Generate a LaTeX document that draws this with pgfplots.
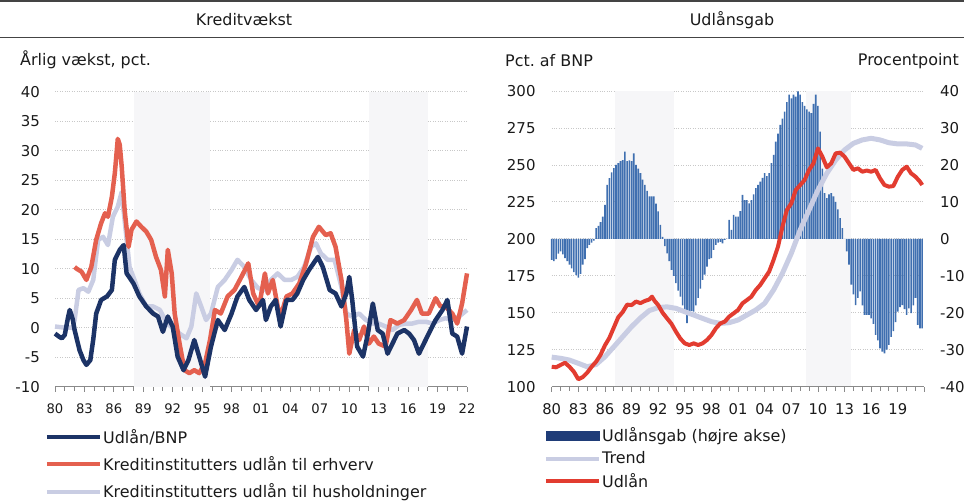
\documentclass[border=0pt]{standalone}
\usepackage{fontspec}
\setmainfont{DejaVu Sans}
\usepackage{pgfplots}
\pgfplotsset{compat=1.18}
\definecolor{navy}{HTML}{1C3366}
\definecolor{redl}{HTML}{E4604F}
\definecolor{redr}{HTML}{E23C30}
\definecolor{lightl}{HTML}{C9CDE3}
\definecolor{barblue}{HTML}{3F6FB0}
\definecolor{barleg}{HTML}{1F3C78}
\definecolor{band}{HTML}{F6F6F8}
\definecolor{gridc}{HTML}{C8C8C8}
\definecolor{axc}{HTML}{8A8A8A}
\definecolor{txt}{HTML}{1A1A1A}
\definecolor{rule}{HTML}{444444}
\newcommand{\fs}[1]{\fontsize{#1}{#1}\selectfont}
\pgfplotsset{
  base/.style={
    scale only axis, enlargelimits=false, clip=false,
    xmin=1980, xmax=2022,
    axis x line*=bottom, axis y line*=left,
    y axis line style={draw=none},
    x axis line style={draw=axc, line width=0.8bp},
    xtick style={draw=axc, line width=0.8bp},
    ytick style={draw=none},
    tick align=outside, major tick length=5bp, minor tick length=4bp,
    xtick={1980,1983,...,2022},
    minor xtick={1980,...,2022},
    /pgf/number format/assume math mode=true,
    major grid style={dotted, draw=gridc, line width=0.8bp},
    legend cell align=left,
    legend style={draw=none, fill=none, inner sep=0pt, outer sep=0pt,
      font=\fs{16}, text=txt, column sep=0bp,
      nodes={inner sep=1.2bp}},
  }
}
\begin{document}
\begin{tikzpicture}[x=1bp,y=1bp]
\path[use as bounding box] (0,0) rectangle (964,504);
\draw[line width=2bp, rule] (0,502.8) -- (964,502.8);
\draw[line width=1bp, rule] (0,466.8) -- (964,466.8);
\node[font=\fs{16}, text=txt] at (244,484) {Kreditvækst};
\node[font=\fs{16}, text=txt] at (732,484) {Udlånsgab};
\node[font=\fs{16}, text=txt, anchor=west, inner sep=0pt] at (20,444) {Årlig vækst, pct.};
\node[font=\fs{16}, text=txt, anchor=west, inner sep=0pt] at (505,443) {Pct.\ af BNP};
\node[font=\fs{16}, text=txt, anchor=east, inner sep=0pt] at (959,443) {Procentpoint};

% ---------------- Left panel ----------------
\begin{axis}[base,
  at={(55bp,117.3bp)}, anchor=south west, width=412bp, height=295bp,
  ymin=-10, ymax=40, ytick={-10,-5,...,40}, ymajorgrids,
  yticklabel style={inner sep=0pt, xshift=-10bp, font=\fs{15}, text=txt},
  xticklabel style={inner sep=0pt, yshift=-12bp, font=\fs{13.2}, text=txt},
  xticklabels={80,83,86,89,92,95,98,01,04,07,10,13,16,19,22},
  legend style={at={(-0.0243,-0.14)}, anchor=north west, row sep=9.5bp},
  legend image code/.code={\draw[#1, line width=4bp] (0bp,0bp) -- (53bp,0bp);},
  reverse legend]
\addplot[fill=band, draw=none, forget plot] coordinates {(1988.1,-10)(1988.1,40)(1995.8,40)(1995.8,-10)} -- cycle;
\addplot[fill=band, draw=none, forget plot] coordinates {(2012.0,-10)(2012.0,40)(2018.0,40)(2018.0,-10)} -- cycle;
\addplot[lightl, line width=4.5bp, line join=round] coordinates {
(1980,0.2)(1981,0)(1981.8,0)(1982,1.3)(1982.4,6.4)(1982.9,6.7)(1983.4,6.1)(1983.9,8.1)(1984.4,14.9)(1984.9,15.4)(1985.4,14)(1985.9,18.8)(1986.4,20.5)(1986.8,23)(1987.1,18.2)(1987.6,10.3)(1988.1,8.1)(1988.6,5.8)(1989.3,3.6)(1990,3.6)(1990.7,3)(1991.4,0.7)(1992,0)(1992.7,-1)(1993.4,-1.8)(1993.9,0.2)(1994.4,5.8)(1994.9,3.6)(1995.4,1.3)(1995.9,2.4)(1996.6,6.9)(1997.3,8.1)(1998,9.8)(1998.6,11.5)(1999.3,10.3)(2000,8.1)(2000.7,6.7)(2001.4,6.4)(2002,8.1)(2002.7,9.2)(2003.4,8.1)(2004.1,8.1)(2004.7,8.6)(2005.4,10.3)(2006.1,13.7)(2006.6,14.3)(2007.1,12.6)(2007.8,11.5)(2008.5,11.5)(2009.2,6.9)(2009.7,2.4)(2010.3,1.9)(2011,2.4)(2011.7,1.3)(2012.4,0.7)(2013,0.7)(2013.7,0.2)(2014.4,-0.4)(2015.1,0.5)(2015.8,0.7)(2016.4,0.7)(2017.1,1)(2017.8,1)(2018.5,0.7)(2019.2,1.3)(2019.8,1.6)(2020.5,1.3)(2021.2,1.9)(2022,3)};
\addlegendentry{Kreditinstitutters udlån til husholdninger}
\addplot[redl, line width=4.5bp, line join=round] coordinates {
(1982,10.3)(1982.2,10)(1982.7,9.5)(1983.2,8.1)(1983.7,10.3)(1984.2,14.9)(1984.7,17.7)(1985.1,19.4)(1985.4,18.8)(1985.8,22.2)(1986.1,26.2)(1986.4,32)(1986.6,31)(1986.8,27.3)(1987.1,19.9)(1987.5,13.7)(1987.8,16.6)(1988.3,18)(1988.8,17.1)(1989.3,16.3)(1989.8,14.9)(1990.3,12)(1990.8,9.8)(1991.2,5.3)(1991.5,13.2)(1991.9,9.2)(1992.2,2.4)(1992.7,-2.7)(1993.2,-7.2)(1993.7,-7.7)(1994.2,-7.2)(1994.7,-7.7)(1995.3,-6)(1995.8,-2.1)(1996.3,3)(1996.9,2.4)(1997.6,5.3)(1998.3,6.4)(1999,8.6)(1999.7,10.9)(2000.2,5.8)(2000.8,3.6)(2001.4,9.2)(2001.7,5.8)(2002.2,8.1)(2002.7,3.6)(2003,1.9)(2003.6,5.3)(2004.2,5.8)(2004.9,7.5)(2005.6,10.9)(2006.3,15.4)(2006.9,17.1)(2007.6,15.7)(2008.1,16)(2008.6,13.7)(2009.2,8.1)(2009.7,1.3)(2010,-4.4)(2010.5,-0.4)(2011,-2.1)(2011.5,0.2)(2012,-2.7)(2012.5,-1.5)(2013,-2.7)(2013.7,-3.2)(2014.2,1.3)(2014.9,0.7)(2015.6,1.3)(2016.3,3)(2016.9,4.7)(2017.4,2.4)(2018.1,2.4)(2018.8,5)(2019.3,3.6)(2019.8,3.6)(2020.5,2.4)(2021,0.7)(2021.5,4.1)(2022,9.2)};
\addlegendentry{Kreditinstitutters udlån til erhverv}
\addplot[navy, line width=4.5bp, line join=round] coordinates {
(1980,-1)(1980.4,-1.5)(1980.7,-1.8)(1981,-1.2)(1981.3,1.5)(1981.5,3)(1981.8,1.5)(1982,-0.4)(1982.5,-3.8)(1982.9,-5.5)(1983.2,-6.3)(1983.6,-5.5)(1983.9,-2)(1984.2,2.4)(1984.7,4.7)(1985.3,5.3)(1985.8,6.4)(1986.1,11.5)(1986.6,13.2)(1987,14)(1987.3,9.2)(1987.6,8.5)(1988,7.5)(1988.6,5.3)(1989.3,3.6)(1990,2.4)(1990.5,1.9)(1991,-0.7)(1991.5,1.9)(1992,0.2)(1992.5,-4.9)(1993.1,-7.2)(1993.6,-5.5)(1994.2,-2.1)(1994.7,-4.9)(1995.3,-8.3)(1995.9,-3.2)(1996.6,1.3)(1997.3,-0.4)(1998,2.4)(1998.6,5.3)(1999.3,6.9)(1999.8,4.7)(2000.5,3)(2001.2,4.7)(2001.5,1.3)(2002,3.6)(2002.5,4.7)(2003,0.2)(2003.6,4.7)(2004.2,4.7)(2004.7,5.8)(2005.3,8.1)(2005.9,9.8)(2006.8,12)(2007.3,10.3)(2008,6.4)(2008.6,5.8)(2009.2,3.6)(2009.7,5.8)(2010,8.6)(2010.3,4.7)(2010.8,-3.2)(2011.4,-4.9)(2011.9,-1)(2012.4,4.1)(2012.9,-0.4)(2013.4,-1)(2013.9,-4.4)(2014.4,-2.7)(2014.9,-1)(2015.6,-0.4)(2016.1,-1)(2016.6,-2.1)(2017.1,-4.4)(2017.6,-2.7)(2018.1,-1)(2018.8,1.3)(2019.5,3)(2020,4.7)(2020.5,-1)(2021,-1.5)(2021.5,-4.4)(2022,0.2)};
\addlegendentry{Udlån/BNP}
\end{axis}

% ---------------- Right panel: gap bars (right axis) ----------------
\begin{axis}[base,
  at={(551.7bp,117.3bp)}, anchor=south west, width=372.7bp, height=295.7bp,
  ymin=-40, ymax=40, ytick={-40,-30,...,40}, ymajorgrids,
  axis x line=none, axis y line*=right,
  yticklabel style={inner sep=0pt, xshift=10.5bp, font=\fs{15}, text=txt}]
\addplot[fill=band, draw=none] coordinates {(1987.1,-40)(1987.1,40)(1993.8,40)(1993.8,-40)} -- cycle;
\addplot[fill=band, draw=none] coordinates {(2008.7,-40)(2008.7,40)(2013.7,40)(2013.7,-40)} -- cycle;
\addplot[ybar, bar width=1.6bp, bar shift=0pt, fill=barblue, draw=none] coordinates {
(1980.00,-5.7)(1980.25,-6.0)(1980.50,-5.5)(1980.75,-4.0)
(1981.00,-3.4)(1981.25,-4.2)(1981.50,-5.2)(1981.75,-6.0)
(1982.00,-7.0)(1982.25,-8.0)(1982.50,-9.0)(1982.75,-9.8)
(1983.00,-10.5)(1983.25,-9.5)(1983.50,-7.0)(1983.75,-5.5)
(1984.00,-2.5)(1984.25,-1.6)(1984.50,-1.0)(1984.75,-0.5)
(1985.00,2.9)(1985.25,3.5)(1985.50,4.5)(1985.75,6.0)
(1986.00,9.2)(1986.25,14.6)(1986.50,16.4)(1986.75,18.0)
(1987.00,19.1)(1987.25,20.0)(1987.50,20.5)(1987.75,21.0)
(1988.00,21.3)(1988.25,23.6)(1988.50,21.0)(1988.75,21.2)
(1989.00,21.0)(1989.25,23.1)(1989.50,20.0)(1989.75,19.0)
(1990.00,17.8)(1990.25,16.0)(1990.50,14.6)(1990.75,13.0)
(1991.00,11.5)(1991.25,11.5)(1991.50,11.5)(1991.75,9.5)
(1992.00,7.4)(1992.25,3.8)(1992.50,0.5)(1992.75,-2.0)
(1993.00,-3.9)(1993.25,-6.0)(1993.50,-8.4)(1993.75,-10.0)
(1994.00,-12.0)(1994.25,-14.0)(1994.50,-15.6)(1994.75,-18.0)
(1995.00,-20.2)(1995.25,-22.8)(1995.50,-20.5)(1995.75,-19.5)
(1996.00,-19.7)(1996.25,-18.0)(1996.50,-16.0)(1996.75,-13.5)
(1997.00,-11.1)(1997.25,-9.7)(1997.50,-7.5)(1997.75,-5.5)
(1998.00,-5.2)(1998.25,-3.0)(1998.50,-1.6)(1998.75,-1.0)
(1999.00,-0.8)(1999.25,-1.2)(1999.50,-0.3)(1999.75,0.0)
(2000.00,5.1)(2000.25,2.4)(2000.50,6.5)(2000.75,6.0)
(2001.00,6.0)(2001.25,7.5)(2001.50,11.9)(2001.75,10.5)
(2002.00,10.5)(2002.25,9.6)(2002.50,10.5)(2002.75,12.0)
(2003.00,13.7)(2003.25,14.6)(2003.50,15.5)(2003.75,16.5)
(2004.00,17.8)(2004.25,17.0)(2004.50,17.8)(2004.75,20.5)
(2005.00,22.7)(2005.25,26.3)(2005.50,28.5)(2005.75,30.8)
(2006.00,32.5)(2006.25,34.4)(2006.50,37.0)(2006.75,39.0)
(2007.00,38.0)(2007.25,39.0)(2007.50,38.5)(2007.75,39.9)
(2008.00,39.0)(2008.25,37.0)(2008.50,36.0)(2008.75,35.0)
(2009.00,34.4)(2009.25,34.0)(2009.50,36.5)(2009.75,39.0)
(2010.00,36.0)(2010.25,29.0)(2010.50,19.0)(2010.75,12.4)
(2011.00,11.0)(2011.25,12.0)(2011.50,12.4)(2011.75,11.5)
(2012.00,10.0)(2012.25,8.0)(2012.50,5.6)(2012.75,2.9)
(2013.00,0.0)(2013.25,-3.4)(2013.50,-7.0)(2013.75,-12.4)
(2014.00,-15.0)(2014.25,-17.9)(2014.50,-16.0)(2014.75,-14.2)
(2015.00,-18.0)(2015.25,-20.6)(2015.50,-20.6)(2015.75,-20.6)
(2016.00,-21.5)(2016.25,-23.0)(2016.50,-26.0)(2016.75,-27.5)
(2017.00,-29.6)(2017.25,-30.5)(2017.50,-31.0)(2017.75,-30.0)
(2018.00,-28.7)(2018.25,-26.5)(2018.50,-25.0)(2018.75,-22.5)
(2019.00,-19.7)(2019.25,-18.5)(2019.50,-17.9)(2019.75,-19.0)
(2020.00,-20.6)(2020.25,-18.8)(2020.50,-20.1)(2020.75,-18.0)
(2021.00,-16.0)(2021.25,-23.3)(2021.50,-24.2)(2021.75,-24.2)};
\end{axis}

% ---------------- Right panel: levels (left axis) ----------------
\begin{axis}[base,
  at={(551.7bp,117.3bp)}, anchor=south west, width=372.7bp, height=295.7bp,
  ymin=100, ymax=300, ytick={100,125,...,300},
  yticklabel style={inner sep=0pt, xshift=-11bp, font=\fs{15}, text=txt},
  xticklabels={80,83,86,89,92,95,98,01,04,07,10,13,16,19,{}},
  xticklabel style={inner sep=0pt, yshift=-12bp, font=\fs{14.8}, text=txt},
  legend style={at={(-0.0207,-0.135)}, anchor=north west, row sep=6bp},
  legend image code/.code={\draw[#1, line width=4bp] (0bp,0bp) -- (53bp,0bp);}]
\addlegendimage{legend image code/.code={\fill[barleg] (0bp,-4.5bp) rectangle (53bp,4.5bp);}}
\addlegendentry{Udlånsgab (højre akse)}
\addplot[lightl, line width=5bp, line join=round] coordinates {
(1980,120)(1981,119.2)(1982,118)(1983,115.8)(1984,113.5)(1985,115)(1986,120.3)(1987,127)(1988,133.8)(1989,140.6)(1990,146.5)(1991,151.5)(1992,153.5)(1993,154)(1994,153)(1995,150.7)(1996,148.5)(1997,146.2)(1998,144)(1999,142.8)(2000,143.3)(2001,145.1)(2002,148.5)(2003,151.9)(2004,156.4)(2005,165.4)(2006,176.7)(2007,190.2)(2008,206)(2009,219.5)(2010,233)(2011,244.3)(2012,253.3)(2013,260.1)(2014,264.6)(2015,266.9)(2016,268)(2017,266.9)(2018,265)(2019,264.2)(2020,264.2)(2021,263.5)(2021.75,261.2)};
\addlegendentry{Trend}
\addplot[redr, line width=4bp, line join=round] coordinates {
(1980,113.5)(1980.5,113.1)(1981,114.7)(1981.5,116.2)(1982,113.5)(1982.5,110.1)(1983,105)(1983.5,106.5)(1984,109.5)(1984.5,113.5)(1985,116.9)(1985.5,121.5)(1986,128)(1986.5,133)(1987,140)(1987.5,147)(1988,150.5)(1988.5,155.5)(1989,155.2)(1989.5,157.6)(1990,156.5)(1990.5,158)(1991,159)(1991.3,160.9)(1991.6,158)(1992,155.2)(1992.5,150)(1993,146.2)(1993.5,142.5)(1994,137.2)(1994.5,132.5)(1995,129.3)(1995.5,128.2)(1996,129.3)(1996.5,128.2)(1997,129.3)(1997.5,131.6)(1998,134.9)(1998.5,139.5)(1999,142.8)(1999.5,144)(2000,147.4)(2000.5,149.6)(2001,151.9)(2001.5,156.4)(2002,158.6)(2002.5,160.9)(2003,165.4)(2003.5,168.8)(2004,173.3)(2004.5,177.8)(2005,185.7)(2005.5,194.7)(2006,208.2)(2006.5,219.5)(2007,224)(2007.5,233)(2008,236.4)(2008.5,239.8)(2009,246.6)(2009.5,251.1)(2010,261.2)(2010.5,255.6)(2011,248.4)(2011.5,251.1)(2012,257.8)(2012.5,258.3)(2013,255.6)(2013.5,251.1)(2014,246.6)(2014.5,247.7)(2015,245.4)(2015.5,246.2)(2016,245.4)(2016.5,246.6)(2017,240.9)(2017.5,236.4)(2018,235.3)(2018.5,235.7)(2019,242)(2019.5,246.6)(2020,248.8)(2020.5,244.3)(2021,242)(2021.5,238.7)(2021.75,236.4)};
\addlegendentry{Udlån}
\end{axis}
\end{tikzpicture}
\end{document}
